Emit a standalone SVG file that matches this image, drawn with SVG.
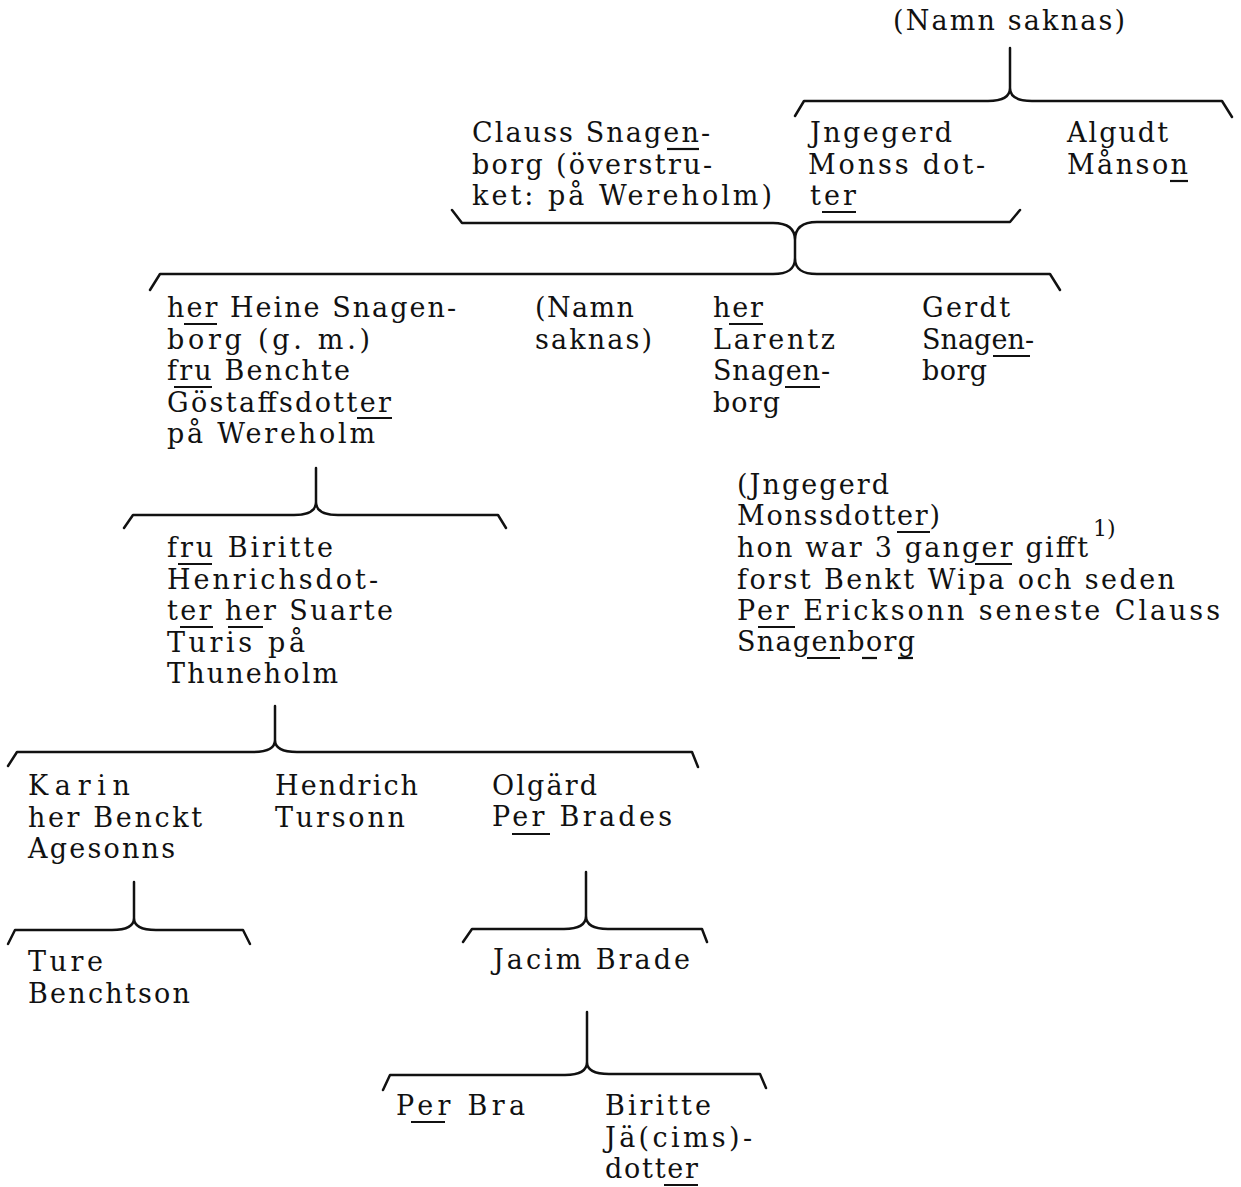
<svg xmlns="http://www.w3.org/2000/svg" width="1241" height="1187" viewBox="0 0 1241 1187">
<style>
.t{font-family:"DejaVu Serif","Liberation Serif",serif;font-size:27px;fill:#111}
.sup{font-family:"DejaVu Serif","Liberation Serif",serif;font-size:22px;fill:#111}
.u{stroke:#111;stroke-width:2.2;fill:none}
.b{stroke:#111;stroke-width:2.5;fill:none;stroke-linejoin:round;stroke-linecap:round}
</style>
<rect width="1241" height="1187" fill="#fff"/>
<g id="connectors">
<path class="b" d="M1010,48 L1010,88 M795,116 L804,101 L988,101 C1002,101 1010,97 1010,88 C1010,97 1018,101 1032,101 L1222,101 L1232,117"/>
<path class="b" d="M452,210 L462,223 L773,223 C787,223 795,228 795,240 C795,228 803,222 817,222 L1010,222 L1020,210 M795,240 L795,258 M150,290 L160,274 L773,274 C787,274 795,270 795,258 C795,270 803,274 817,274 L1050,274 L1060,290"/>
<path class="b" d="M316,468 L316,502 M124,528 L133,515 L294,515 C308,515 316,511 316,502 C316,511 324,515 338,515 L498,515 L506,528"/>
<path class="b" d="M275,706 L275,740 M8,766 L17,752 L253,752 C267,752 275,748 275,740 C275,748 283,752 297,752 L692,752 L698,767"/>
<path class="b" d="M134,882 L134,918 M8,944 L15,930 L112,930 C126,930 134,926 134,918 C134,926 142,930 156,930 L243,930 L250,944"/>
<path class="b" d="M586,872 L586,916 M463,942 L472,929 L564,929 C578,929 586,925 586,916 C586,925 594,929 608,929 L702,929 L707,942"/>
<path class="b" d="M587,1012 L587,1062 M383,1090 L390,1075 L565,1075 C579,1075 587,1071 587,1062 C587,1071 595,1074 609,1074 L760,1074 L766,1088"/>
</g>
<g id="n-top">
<text class="t" x="893" y="30" textLength="232" lengthAdjust="spacing">(Namn saknas)</text>
</g>
<g id="n-clauss">
<text class="t" x="472" y="142" textLength="238" lengthAdjust="spacing">Clauss Snagen-</text>
<text class="t" x="472" y="173.5" textLength="240" lengthAdjust="spacing">borg (överstru-</text>
<text class="t" x="472" y="205" textLength="300" lengthAdjust="spacing">ket: på Wereholm)</text>
<line class="u" x1="667" y1="149" x2="699" y2="149"/>
</g>
<g id="n-jngegerd">
<text class="t" x="810" y="142" textLength="142" lengthAdjust="spacing">Jngegerd</text>
<text class="t" x="808" y="173.5" textLength="177" lengthAdjust="spacing">Monss dot-</text>
<text class="t" x="810" y="205" textLength="46" lengthAdjust="spacing">ter</text>
<line class="u" x1="822" y1="212" x2="856" y2="212"/>
</g>
<g id="n-algudt">
<text class="t" x="1067" y="142" textLength="101" lengthAdjust="spacing">Algudt</text>
<text class="t" x="1067" y="173.5" textLength="121" lengthAdjust="spacing">Månson</text>
<line class="u" x1="1170" y1="181" x2="1188" y2="181"/>
</g>
<g id="n-heine">
<text class="t" x="167" y="317" textLength="289" lengthAdjust="spacing">her Heine Snagen-</text>
<text class="t" x="167" y="348.5" textLength="203" lengthAdjust="spacing">borg (g. m.)</text>
<text class="t" x="167" y="380" textLength="183" lengthAdjust="spacing">fru Benchte</text>
<text class="t" x="167" y="411.5" textLength="224" lengthAdjust="spacing">Göstaffsdotter</text>
<text class="t" x="167" y="443" textLength="208" lengthAdjust="spacing">på Wereholm</text>
<line class="u" x1="184" y1="324" x2="217" y2="324"/>
<line class="u" x1="174" y1="387" x2="212" y2="387"/>
<line class="u" x1="357" y1="418" x2="392" y2="418"/>
</g>
<g id="n-namn2">
<text class="t" x="535" y="317" textLength="99" lengthAdjust="spacing">(Namn</text>
<text class="t" x="535" y="348.5" textLength="117" lengthAdjust="spacing">saknas)</text>
</g>
<g id="n-larentz">
<text class="t" x="713" y="317" textLength="50" lengthAdjust="spacing">her</text>
<text class="t" x="713" y="348.5" textLength="122" lengthAdjust="spacing">Larentz</text>
<text class="t" x="713" y="380" textLength="117" lengthAdjust="spacing">Snagen-</text>
<text class="t" x="713" y="411.5" textLength="67" lengthAdjust="spacing">borg</text>
<line class="u" x1="729" y1="324" x2="763" y2="324"/>
<line class="u" x1="785" y1="387" x2="820" y2="387"/>
</g>
<g id="n-gerdt">
<text class="t" x="922" y="317" textLength="88" lengthAdjust="spacing">Gerdt</text>
<text class="t" x="922" y="348.5" textLength="112" lengthAdjust="spacing">Snagen-</text>
<text class="t" x="922" y="380" textLength="65" lengthAdjust="spacing">borg</text>
<line class="u" x1="993" y1="356" x2="1030" y2="356"/>
</g>
<g id="n-biritte">
<text class="t" x="167" y="557" textLength="166" lengthAdjust="spacing">fru Biritte</text>
<text class="t" x="167" y="588.5" textLength="211" lengthAdjust="spacing">Henrichsdot-</text>
<text class="t" x="167" y="620" textLength="226" lengthAdjust="spacing">ter her Suarte</text>
<text class="t" x="167" y="651.5" textLength="138" lengthAdjust="spacing">Turis på</text>
<text class="t" x="167" y="683" textLength="171" lengthAdjust="spacing">Thuneholm</text>
<line class="u" x1="178" y1="564" x2="212" y2="564"/>
<line class="u" x1="180" y1="627" x2="213" y2="627"/>
<line class="u" x1="228" y1="627" x2="263" y2="627"/>
</g>
<g id="n-note">
<text class="t" x="737" y="494" textLength="152" lengthAdjust="spacing">(Jngegerd</text>
<text class="t" x="737" y="525" textLength="203" lengthAdjust="spacing">Monssdotter)</text>
<text class="t" x="737" y="557" textLength="351" lengthAdjust="spacing">hon war 3 ganger gifft</text>
<text class="sup" x="1093" y="536">1)</text>
<text class="t" x="737" y="588.5" textLength="438" lengthAdjust="spacing">forst Benkt Wipa och seden</text>
<text class="t" x="737" y="620" textLength="483" lengthAdjust="spacing">Per Ericksonn seneste Clauss</text>
<text class="t" x="737" y="651" textLength="178" lengthAdjust="spacing">Snagenborg</text>
<line class="u" x1="897" y1="532" x2="930" y2="532"/>
<line class="u" x1="975" y1="564" x2="1012" y2="564"/>
<line class="u" x1="758" y1="627" x2="795" y2="627"/>
<line class="u" x1="807" y1="658" x2="840" y2="658"/>
<line class="u" x1="862" y1="658" x2="877" y2="658"/>
<line class="u" x1="898" y1="658" x2="913" y2="658"/>
</g>
<g id="n-karin">
<text class="t" x="28" y="795" textLength="102" lengthAdjust="spacing">Karin</text>
<text class="t" x="28" y="826.5" textLength="174" lengthAdjust="spacing">her Benckt</text>
<text class="t" x="28" y="858" textLength="147" lengthAdjust="spacing">Agesonns</text>
</g>
<g id="n-hendrich">
<text class="t" x="275" y="795" textLength="143" lengthAdjust="spacing">Hendrich</text>
<text class="t" x="275" y="826.5" textLength="130" lengthAdjust="spacing">Tursonn</text>
</g>
<g id="n-olgard">
<text class="t" x="492" y="795" textLength="105" lengthAdjust="spacing">Olgärd</text>
<text class="t" x="492" y="826" textLength="180" lengthAdjust="spacing">Per Brades</text>
<line class="u" x1="512" y1="834" x2="550" y2="834"/>
</g>
<g id="n-ture">
<text class="t" x="28" y="971" textLength="75" lengthAdjust="spacing">Ture</text>
<text class="t" x="28" y="1002.5" textLength="162" lengthAdjust="spacing">Benchtson</text>
</g>
<g id="n-jacim">
<text class="t" x="493" y="969" textLength="197" lengthAdjust="spacing">Jacim Brade</text>
</g>
<g id="n-perbra">
<text class="t" x="396" y="1115" textLength="129" lengthAdjust="spacing">Per Bra</text>
<line class="u" x1="411" y1="1122" x2="445" y2="1122"/>
</g>
<g id="n-biritte2">
<text class="t" x="605" y="1115" textLength="106" lengthAdjust="spacing">Biritte</text>
<text class="t" x="605" y="1146.5" textLength="147" lengthAdjust="spacing">Jä(cims)-</text>
<text class="t" x="605" y="1178" textLength="93" lengthAdjust="spacing">dotter</text>
<line class="u" x1="664" y1="1185" x2="698" y2="1185"/>
</g>
</svg>
